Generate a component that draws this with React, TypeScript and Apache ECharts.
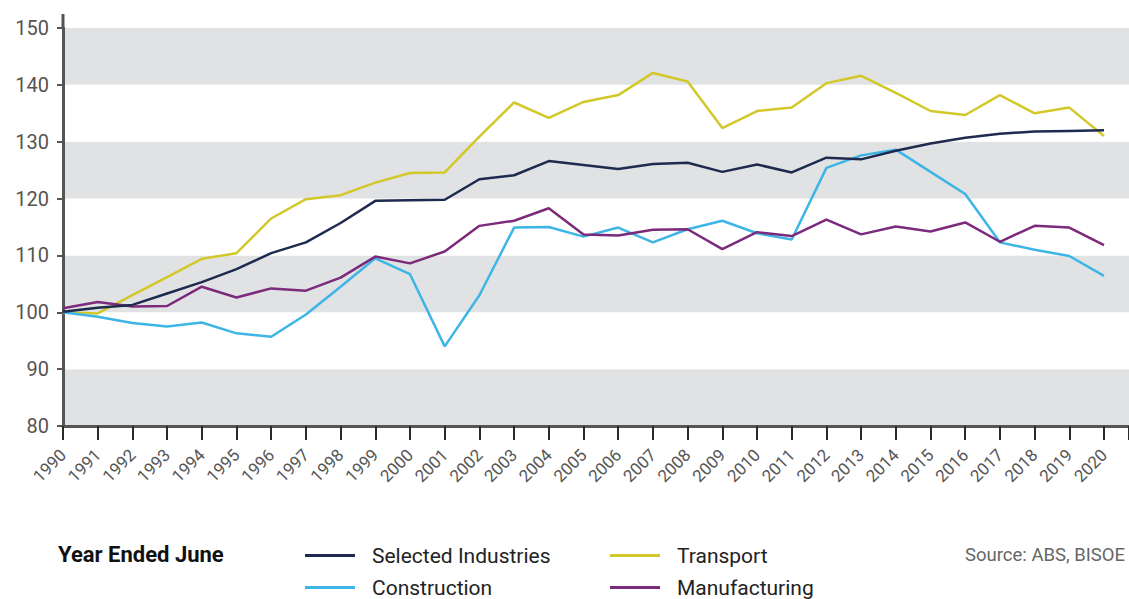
import React, { useEffect, useRef } from "react";
import * as echarts from "echarts";

const years = [1990, 1991, 1992, 1993, 1994, 1995, 1996, 1997, 1998, 1999, 2000, 2001, 2002, 2003, 2004, 2005, 2006, 2007, 2008, 2009, 2010, 2011, 2012, 2013, 2014, 2015, 2016, 2017, 2018, 2019, 2020];

const selectedIndustries = [100.1, 100.8, 101.3, 103.3, 105.3, 107.6, 110.4, 112.3, 115.7, 119.6, 119.7, 119.8, 123.4, 124.1, 126.6, 125.9, 125.2, 126.1, 126.3, 124.7, 126.0, 124.6, 127.2, 126.9, 128.4, 129.7, 130.7, 131.4, 131.8, 131.9, 132.0];
const transport = [100.0, 99.8, 103.0, 106.2, 109.4, 110.4, 116.5, 119.9, 120.6, 122.8, 124.5, 124.6, 130.9, 136.9, 134.2, 137.0, 138.2, 142.1, 140.6, 132.4, 135.4, 136.0, 140.3, 141.6, 138.6, 135.4, 134.7, 138.2, 135.0, 136.0, 131.0];
const construction = [100.0, 99.2, 98.1, 97.5, 98.2, 96.3, 95.7, 99.6, 104.5, 109.5, 106.7, 94.0, 103.0, 114.9, 115.0, 113.3, 114.9, 112.3, 114.6, 116.1, 113.9, 112.8, 125.4, 127.6, 128.6, 124.7, 120.8, 112.3, 111.0, 109.9, 106.4];
const manufacturing = [100.7, 101.8, 101.0, 101.1, 104.5, 102.6, 104.2, 103.8, 106.1, 109.8, 108.6, 110.7, 115.2, 116.1, 118.3, 113.7, 113.5, 114.5, 114.6, 111.1, 114.1, 113.4, 116.3, 113.7, 115.1, 114.2, 115.8, 112.4, 115.2, 114.9, 111.8];

const seriesNames = ["Selected Industries", "Transport", "Construction", "Manufacturing"];
const seriesColors = ["#1e2a4f", "#d2c82a", "#3db5e6", "#7b2a7c"];
const seriesValues = [selectedIndustries, transport, construction, manufacturing];

const yTicks = [80, 90, 100, 110, 120, 130, 140, 150];

export default function App() {
  const ref = useRef<HTMLDivElement>(null);

  useEffect(() => {
    if (!ref.current) return;
    const chart = echarts.init(ref.current, undefined, { renderer: "svg" });

    const legendPos = [
      { left: 305, top: 545 },
      { left: 610, top: 545 },
      { left: 305, top: 577 },
      { left: 610, top: 577 },
    ];

    const isYear = (v: number) => Math.abs(v - Math.round(v)) < 1e-6;

    chart.setOption({
      animation: false,
      grid: { left: 63, right: -3, top: 28, bottom: 173, containLabel: false },
      xAxis: {
        type: "value",
        min: 1990,
        max: 2020.72,
        interval: 1,
        axisLine: { show: true, lineStyle: { color: "#555", width: 3 } },
        axisTick: {
          show: true,
          inside: false,
          length: 14,
          lineStyle: { color: "#2a2a2a", width: 2 },
        },
        axisLabel: {
          rotate: 45,
          fontSize: 17,
          color: "#555",
          fontFamily: "Roboto",
          margin: 26,
          customValues: years,
          formatter: (v: number) => (isYear(v) ? String(Math.round(v)) : ""),
        },
        splitLine: { show: false },
      },
      yAxis: {
        type: "value",
        min: 80,
        max: 150,
        interval: 10,
        axisLine: { show: true, lineStyle: { color: "#555", width: 3 } },
        axisTick: { show: true, length: 6, lineStyle: { color: "#555", width: 2 } },
        axisLabel: {
          fontSize: 20,
          color: "#58534f",
          fontFamily: "Roboto",
          margin: 14,
          customValues: yTicks,
        },
        splitLine: { show: false },
        splitArea: { show: true, areaStyle: { color: ["#e1e2e3", "#ffffff"] } },
      },
      legend: seriesNames.map((n, i) => ({
        left: legendPos[i].left,
        top: legendPos[i].top,
        padding: 0,
        data: [n],
        icon: "rect",
        itemWidth: 50,
        itemHeight: 3,
        selectedMode: false,
        textStyle: { fontSize: 21, color: "#222", fontFamily: "Roboto", padding: [0, 0, 0, 12] },
      })),
      graphic: [
        {
          type: "line",
          shape: { x1: 63, y1: 14, x2: 63, y2: 28 },
          style: { stroke: "#555", lineWidth: 3 },
        },
        {
          type: "text",
          left: 58,
          top: 543,
          style: { text: "Year Ended June", fontSize: 22, fontWeight: "bold", fill: "#111", fontFamily: "Roboto" },
        },
        {
          type: "text",
          right: 4,
          top: 545,
          style: { text: "Source: ABS, BISOE", fontSize: 18.5, fill: "#666", fontFamily: "Roboto" },
        },
      ],
      series: seriesNames.map((n, i) => ({
        name: n,
        type: "line",
        data: years.map((y, j) => [y, seriesValues[i][j]]),
        showSymbol: false,
        symbol: "none",
        lineStyle: { color: seriesColors[i], width: 2.5 },
        itemStyle: { color: seriesColors[i] },
        z: i === 0 ? 5 : 3,
      })),
    });

    return () => chart.dispose();
  }, []);

  return (
    <div
      ref={ref}
      style={{ position: "absolute", left: 0, top: 0, width: 1129, height: 599 }}
    />
  );
}
